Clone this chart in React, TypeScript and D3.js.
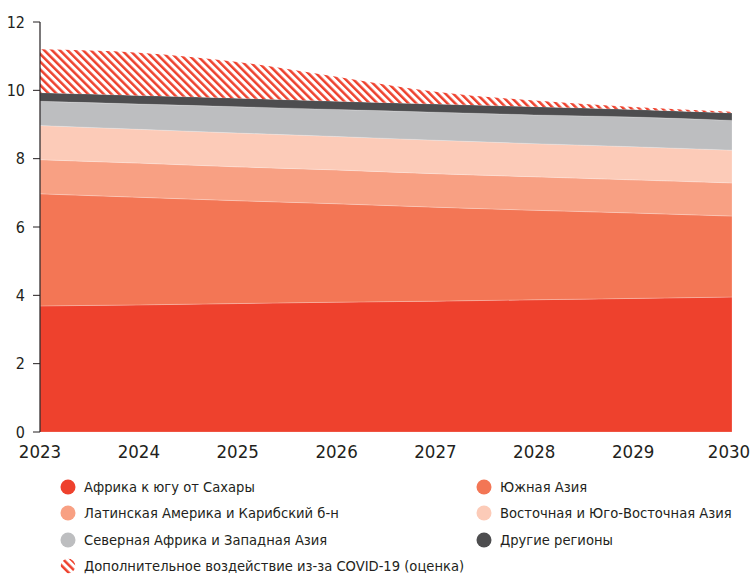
import React, { useEffect, useRef } from 'react'
import * as d3 from 'd3'

const years = [2023, 2024, 2025, 2026, 2027, 2028, 2029, 2030];

// values per region (stacked)
const subSaharan = [3.69, 3.72, 3.76, 3.8, 3.83, 3.87, 3.91, 3.95];
const southAsia = [3.28, 3.15, 3.01, 2.88, 2.75, 2.62, 2.5, 2.37];
const latinAmerica = [1.0, 1.0, 0.99, 0.99, 0.98, 0.98, 0.97, 0.97];
const eastAsia = [1.0, 0.99, 0.99, 0.98, 0.98, 0.97, 0.97, 0.96];
const northAfrica = [0.71, 0.74, 0.77, 0.79, 0.82, 0.84, 0.87, 0.87];
const otherRegions = [0.25, 0.25, 0.25, 0.24, 0.24, 0.24, 0.22, 0.22];
const covidExtra = [1.27, 1.25, 1.06, 0.72, 0.36, 0.18, 0.07, 0.03];

const seriesNames = [
  'Африка к югу от Сахары',
  'Южная Азия',
  'Латинская Америка и Карибский б-н',
  'Восточная и Юго-Восточная Азия',
  'Северная Африка и Западная Азия',
  'Другие регионы',
  'Дополнительное воздействие из-за COVID-19 (оценка)',
];
const seriesColors = ['#ee412d', '#f37655', '#f8a083', '#fccbb8', '#bdbec0', '#4d4d4f', 'url(#covid-hatch)'];
const yTicks = [0, 2, 4, 6, 8, 10, 12];

const FONT = "'Liberation Sans Narrow', 'DejaVu Sans Condensed', 'Noto Sans', sans-serif";

export default function App() {
  const svgRef = useRef<SVGSVGElement>(null);

  useEffect(() => {
    if (!svgRef.current) return;
    const svg = d3.select(svgRef.current);
    svg.selectAll('*').remove();

    const left = 40, right = 732, top = 22, bottom = 432;

    const x = d3.scaleLinear().domain([2023, 2030]).range([left, right]);
    const y = d3.scaleLinear().domain([0, 12]).range([bottom, top]);

    // hatch pattern for COVID impact
    const defs = svg.append('defs');
    const pat = defs.append('pattern')
      .attr('id', 'covid-hatch')
      .attr('patternUnits', 'userSpaceOnUse')
      .attr('width', 5.5)
      .attr('height', 5.5)
      .attr('patternTransform', 'rotate(-45)');
    pat.append('rect').attr('width', 5.5).attr('height', 5.5).attr('fill', '#fff');
    pat.append('rect').attr('x', 0).attr('width', 2.5).attr('height', 5.5).attr('fill', '#ee412d');

    const series = [subSaharan, southAsia, latinAmerica, eastAsia, northAfrica, otherRegions, covidExtra];
    const rows = years.map((yr, i) => {
      const r: Record<string, number> = { year: yr };
      series.forEach((s, k) => { r['s' + k] = s[i]; });
      return r;
    });
    const keys = series.map((_, k) => 's' + k);
    const stacked = d3.stack<Record<string, number>>().keys(keys)(rows);

    const area = d3.area<any>()
      .x(d => x(d.data.year))
      .y0(d => y(d[0]))
      .y1(d => y(d[1]))
      .curve(d3.curveMonotoneX);

    svg.append('g')
      .selectAll('path')
      .data(stacked)
      .enter()
      .append('path')
      .attr('d', area)
      .attr('fill', (_, i) => seriesColors[i])
      .attr('stroke', (_, i) => (i < 6 ? 'rgba(255,255,255,0.35)' : 'none'))
      .attr('stroke-width', 0.6);

    // y axis
    const yAxis = svg.append('g').attr('transform', `translate(${left},0)`);
    yAxis.append('line')
      .attr('x1', 0).attr('x2', 0)
      .attr('y1', y(12)).attr('y2', y(0))
      .attr('stroke', '#231f20').attr('stroke-width', 1.2);
    yTicks.forEach(t => {
      yAxis.append('line')
        .attr('x1', -7).attr('x2', 0)
        .attr('y1', y(t)).attr('y2', y(t))
        .attr('stroke', '#231f20').attr('stroke-width', 1);
      yAxis.append('text')
        .attr('x', -15).attr('y', y(t))
        .attr('dy', '0.35em')
        .attr('text-anchor', 'end')
        .attr('font-family', FONT)
        .attr('font-size', 16)
        .attr('fill', '#231f20')
        .text(t);
    });

    // x labels
    years.forEach((yr, i) => {
      svg.append('text')
        .attr('x', i === years.length - 1 ? x(yr) - 3 : x(yr))
        .attr('y', 458)
        .attr('text-anchor', 'middle')
        .attr('font-family', FONT)
        .attr('font-size', 18.5)
        .attr('fill', '#231f20')
        .text(yr);
    });

    // legend
    const legendPos = [
      [68, 487], [484, 487],
      [68, 513], [484, 513],
      [68, 540], [484, 540],
      [68, 566],
    ];
    seriesNames.forEach((name, i) => {
      const [lx, ly] = legendPos[i];
      const g = svg.append('g').attr('transform', `translate(${lx},${ly})`);
      if (i < 6) {
        g.append('circle').attr('r', 7.5).attr('fill', seriesColors[i]);
      } else {
        g.append('clipPath').attr('id', 'leg-clip')
          .append('circle').attr('r', 7.5);
        g.append('circle').attr('r', 7.5).attr('fill', 'url(#covid-hatch)')
          .attr('clip-path', 'url(#leg-clip)');
      }
      g.append('text')
        .attr('x', 16).attr('y', 0)
        .attr('dy', '0.35em')
        .attr('font-family', FONT)
        .attr('font-size', 14.6)
        .attr('fill', '#231f20')
        .text(name);
    });
  }, []);

  return (
    <svg
      ref={svgRef}
      width={752}
      height={575}
      style={{ position: 'absolute', left: 0, top: 0, background: '#fff' }}
    />
  );
}
